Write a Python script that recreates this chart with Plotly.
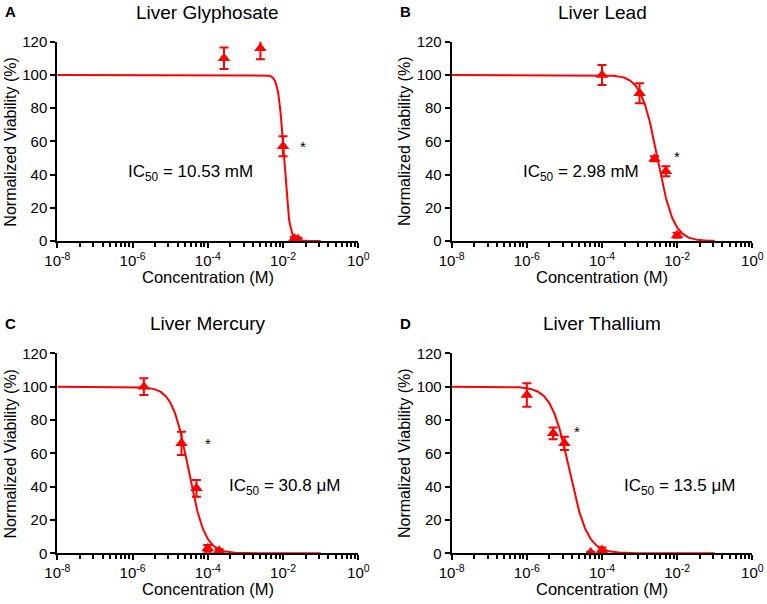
import numpy as np
import plotly.graph_objects as go

W, H = 767, 604
RED = "#ff0000"

# ---- data ----
titles = ["Liver Glyphosate", "Liver Lead", "Liver Mercury", "Liver Thallium"]
letters = ["A", "B", "C", "D"]
ic50_labels = ["IC<sub>50</sub> = 10.53 mM", "IC<sub>50</sub> = 2.98 mM",
               "IC<sub>50</sub> = 30.8 μM", "IC<sub>50</sub> = 13.5 μM"]

glyph_conc = [2.7e-4, 2.5e-3, 1.0e-2, 2.0e-2, 2.5e-2]
glyph_via = [110, 116, 57, 1.5, 1.0]
glyph_err = [6.5, 6.5, 6, 1, 1]

lead_conc = [1e-4, 1e-3, 2.5e-3, 5e-3, 1e-2]
lead_via = [100, 89, 49.5, 42, 3.5]
lead_err = [6, 6, 1.5, 3, 1.5]

merc_conc = [2e-6, 2e-5, 5e-5, 1e-4, 2e-4]
merc_via = [100, 66, 39, 3, 1.5]
merc_err = [5, 7, 5, 2, 1]

thal_conc = [1e-6, 5e-6, 1e-5, 5e-5, 1e-4]
thal_via = [95, 72, 66, 0.5, 2]
thal_err = [7, 3.5, 4, 0.5, 1.5]

# fitted curve parameters (IC50 in M, Hill slope)
ic50_values = [10.53e-3, 2.98e-3, 30.8e-6, 13.5e-6]
hill_slopes = [6.0, 2.0, 2.0, 1.8]

# star annotation positions (log10 conc, viability)
star_pos = [(-1.47, 57), (-2.0, 51), (-4.0, 66), (-4.66, 73)]
# IC50 label positions (log10 conc, viability)
label_pos = [(-4.47, 41), (-4.55, 41), (-1.97, 40), (-1.95, 40)]

x_tick_vals = [1e-8, 1e-6, 1e-4, 1e-2, 1e0]
x_tick_text = ["10<sup>-8</sup>", "10<sup>-6</sup>", "10<sup>-4</sup>",
               "10<sup>-2</sup>", "10<sup>0</sup>"]
y_tick_vals = [0, 20, 40, 60, 80, 100, 120]

datasets = [(glyph_conc, glyph_via, glyph_err), (lead_conc, lead_via, lead_err),
            (merc_conc, merc_via, merc_err), (thal_conc, thal_via, thal_err)]

# ---- layout geometry (pixels) ----
x_px = [(57.3, 358.3), (451.7, 752.3), (57.3, 358.3), (451.7, 752.3)]
y_px = [(41.7, 241.0), (41.7, 241.0), (353.3, 553.3), (353.3, 553.3)]

FONT = "Liberation Sans, Arial, Helvetica, sans-serif"

fig = go.Figure()
layout = dict(
    width=W, height=H, margin=dict(l=0, r=0, t=0, b=0, autoexpand=False),
    paper_bgcolor="white", plot_bgcolor="white", showlegend=False,
    font=dict(family=FONT, color="black"),
)
annotations = []

minor_vals = []
for m in range(-8, 0, 2):
    for k in range(2, 10):
        minor_vals.append(k * k * 10.0 ** m)

for i in range(4):
    xs = "" if i == 0 else str(i + 1)
    xa, ya = "x" + xs, "y" + xs
    conc, via, err = datasets[i]
    xc = np.logspace(-8, -1, 400)
    yc = 100.0 / (1.0 + (xc / ic50_values[i]) ** hill_slopes[i])
    fig.add_trace(go.Scatter(x=xc, y=yc, mode="lines", xaxis=xa, yaxis=ya,
                             line=dict(color=RED, width=2), hoverinfo="skip"))
    fig.add_trace(go.Scatter(x=conc, y=via, mode="markers", xaxis=xa, yaxis=ya,
                             marker=dict(symbol="triangle-up", size=11, color=RED),
                             error_y=dict(type="data", array=err, visible=True,
                                          color=RED, thickness=2, width=4.5),
                             cliponaxis=False))
    x0, x1 = x_px[i]
    y0, y1 = y_px[i]
    layout["xaxis" + xs] = dict(
        domain=[x0 / W, x1 / W], anchor=ya, type="log", range=[-8, 0],
        automargin=False,
        tickvals=x_tick_vals, ticktext=x_tick_text, ticks="outside", ticklen=5,
        tickwidth=2, tickcolor="black", showline=True, linecolor="black",
        linewidth=2, showgrid=False, zeroline=False,
        tickfont=dict(size=15, family=FONT),
        minor=dict(tickvals=minor_vals, ticks="outside", ticklen=3.5,
                   tickwidth=1.5, tickcolor="black", showgrid=False),
    )
    layout["yaxis" + xs] = dict(
        domain=[1 - y1 / H, 1 - y0 / H], anchor=xa, range=[0, 120],
        automargin=False,
        tickvals=y_tick_vals, ticks="outside", ticklen=5, tickwidth=2,
        tickcolor="black", showline=True, linecolor="black", linewidth=2,
        showgrid=False, zeroline=False, tickfont=dict(size=15, family=FONT),
    )
    cx = (x0 + x1) / 2
    # title
    annotations.append(dict(text=titles[i], xref="paper", yref="paper",
                            x=cx / W, y=1 - (y0 - 29.5) / H, showarrow=False,
                            xanchor="center", yanchor="middle",
                            font=dict(size=19, family=FONT)))
    # panel letter
    annotations.append(dict(text="<b>" + letters[i] + "</b>", xref="paper", yref="paper",
                            x=(x0 - 54) / W, y=1 - (y0 - 30) / H, showarrow=False,
                            xanchor="left", yanchor="middle",
                            font=dict(size=15, family=FONT)))
    # x axis title
    annotations.append(dict(text="Concentration (M)", xref="paper", yref="paper",
                            x=cx / W, y=1 - (y1 + 36) / H, showarrow=False,
                            xanchor="center", yanchor="middle",
                            font=dict(size=16.5, family=FONT)))
    # y axis title
    annotations.append(dict(text="Normalized Viability (%)", xref="paper", yref="paper",
                            x=(x0 - 47) / W, y=1 - ((y0 + y1) / 2) / H, showarrow=False,
                            textangle=-90, xanchor="center", yanchor="middle",
                            font=dict(size=16, family=FONT)))
    # IC50 label
    lx, ly = label_pos[i]
    annotations.append(dict(text=ic50_labels[i], xref=xa, yref=ya, x=lx, y=ly,
                            showarrow=False, xanchor="center", yanchor="middle",
                            font=dict(size=17, family=FONT)))
    sx, sy = star_pos[i]
    annotations.append(dict(text="*", xref=xa, yref=ya, x=sx, y=sy,
                            showarrow=False, xanchor="center", yanchor="middle",
                            font=dict(size=15, family=FONT)))

layout["annotations"] = annotations
fig.update_layout(**layout)
# remove the browser's default 8 px body margin so the figure fills the window
fig.write_html("out.html", config={"displayModeBar": False},
               post_script="document.body.style.margin='0px';")
